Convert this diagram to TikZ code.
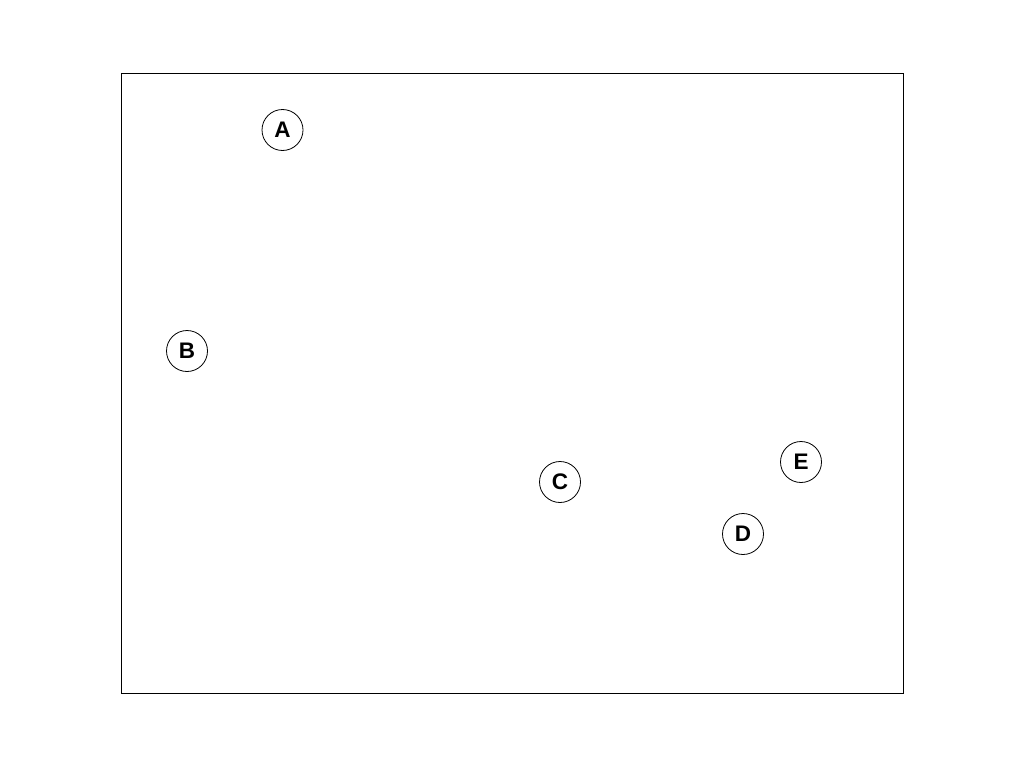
\documentclass[tikz,border=0pt]{standalone}
\usepackage{fontspec}
\setmainfont{Liberation Sans}
\begin{document}
\begin{tikzpicture}[x=1pt,y=-1pt,
  vert/.style={circle,draw,line width=0.8pt,minimum size=41pt,inner sep=0pt,font=\fontsize{22.5}{22.5}\selectfont\bfseries}]
\useasboundingbox (0,0) rectangle (1024,768);
\draw[line width=0.8pt] (121,73) rectangle (903,693);
\node[vert] (A) at (282.5,130) {A};
\node[vert] (B) at (187,351) {B};
\node[vert] (C) at (560,482) {C};
\node[vert] (D) at (743,534) {D};
\node[vert] (E) at (801,462) {E};
\end{tikzpicture}
\end{document}
